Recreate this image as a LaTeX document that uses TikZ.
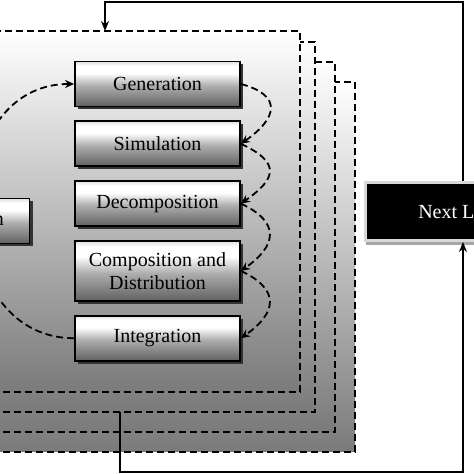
\documentclass[tikz,border=0pt]{standalone}
\usepackage{fontspec}
\setmainfont{Liberation Serif}
\usetikzlibrary{positioning, arrows.meta, shadows}

\pgfdeclarelayer{sheets}
\pgfdeclarelayer{loops}
\pgfsetlayers{sheets,loops,main}

\pgfdeclareverticalshading{stepshade}{100bp}{color(0bp)=(black!62); color(25bp)=(black!62); color(48bp)=(black!32); color(62bp)=(white); color(70bp)=(white); color(75bp)=(black!12); color(100bp)=(black!12)}

\tikzset{
	sheet/.style={draw, line width=1.8pt, dash pattern=on 7pt off 4pt, top color=white, bottom color=black!52, inner sep=0pt, outer sep=0pt},
	stepbox/.style={draw, line width=1.8pt, shading=stepshade, minimum width=165pt, minimum height=45pt, align=center, font=\fontsize{20}{23}\selectfont, drop shadow={shadow xshift=3pt, shadow yshift=-3pt, fill=black!80, opacity=1}},
	nextbox/.style={fill=black, draw=black!15, line width=3pt, text=white, minimum width=195pt, minimum height=58pt, font=\fontsize{20}{23}\selectfont, drop shadow={shadow xshift=0pt, shadow yshift=-5pt, fill=black!35, opacity=1}},
	loopback/.style={line width=1.8pt, dash pattern=on 7pt off 4pt, -{Stealth[length=9pt, width=8pt]}},
	feedback/.style={line width=2pt, -{Stealth[length=10pt, width=8pt]}}
}

\begin{document}
\begin{tikzpicture}[x=1pt, y=1pt]
	\useasboundingbox (0,0) rectangle (474,474);

	\begin{pgfonlayer}{sheets}
		\node[sheet, minimum width=385pt, minimum height=370pt] (sheet4) at (162.5,207) {};
		\node[sheet, minimum width=365pt, minimum height=370pt] (sheet3) at (152.5,227) {};
		\node[sheet, minimum width=345pt, minimum height=370pt] (sheet2) at (142.5,247) {};
		\node[sheet, minimum width=330pt, minimum height=361pt] (sheet1) at (135,262.5) {};
	\end{pgfonlayer}

	\node[stepbox] (generation) at (157.5,390) {Generation};
	\node[stepbox, below=13pt of generation] (simulation) {Simulation};
	\node[stepbox, below=13pt of simulation] (decomposition) {Decomposition};
	\node[stepbox, below=13pt of decomposition, minimum height=60pt] (composition) {Composition and\\Distribution};
	\node[stepbox, below=13pt of composition] (integration) {Integration};

	\node[stepbox, minimum width=157pt] (specification) at (-49,253) {Specification};

	\node[nextbox] (nextlevel) at (463,262.5) {Next Level};

	\begin{pgfonlayer}{loops}
		\draw[loopback] (integration.west) to[out=180, in=180, looseness=1.35] (generation.west);
	\end{pgfonlayer}

	\draw[loopback] (generation.east) to[out=-15, in=35, distance=44pt] (simulation.east);
	\draw[loopback] (simulation.east) to[out=-25, in=35, distance=44pt] (decomposition.east);
	\draw[loopback] (decomposition.east) to[out=-25, in=35, distance=44pt] (composition.east);
	\draw[loopback] (composition.east) to[out=-25, in=35, distance=44pt] (integration.east);

	\coordinate (topturn) at (105,472);
	\coordinate (bottomturn) at (120,2);
	\draw[feedback] (nextlevel.north) |- (topturn) -- (topturn |- sheet1.north);
	\draw[feedback] (bottomturn |- sheet2.south) -- (bottomturn) -| (nextlevel.south);
\end{tikzpicture}
\end{document}
